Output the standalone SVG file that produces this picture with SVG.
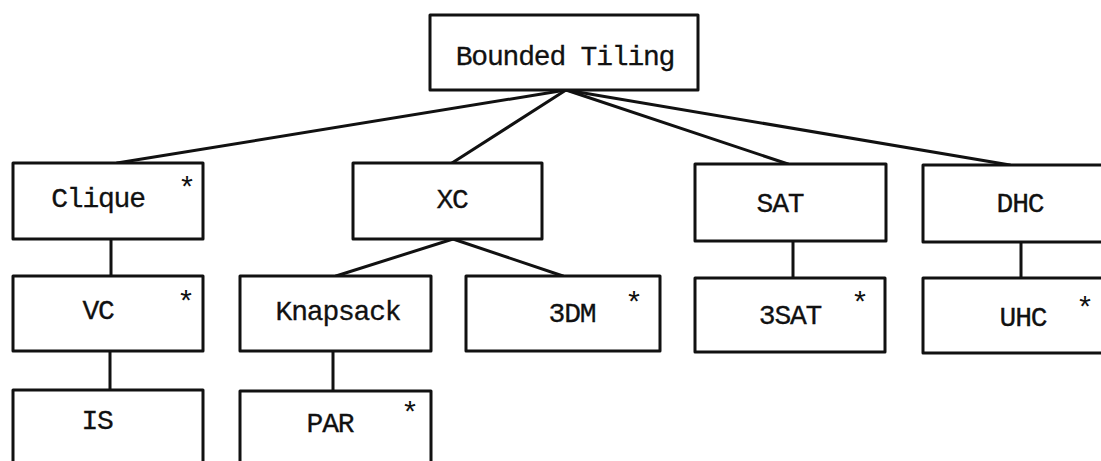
<svg xmlns="http://www.w3.org/2000/svg" width="1101" height="461" viewBox="0 0 1101 461">
<style>
.box{fill:#fff;stroke:#111;stroke-width:3;stroke-linejoin:round}
.lbl{font-family:"Liberation Mono","Courier New",monospace;font-size:28px;letter-spacing:-1.2px;fill:#111;stroke:#111;stroke-width:0.3;text-anchor:middle}
.star{font-family:"Liberation Mono","Courier New",monospace;font-size:30px;fill:#111;text-anchor:middle}
.ln{stroke:#111;stroke-width:3;fill:none;stroke-linecap:round}
</style>
<rect width="1101" height="461" fill="#fff"/>
<g id="connectors">
<line class="ln" x1="566" y1="90" x2="117" y2="163"/>
<line class="ln" x1="566" y1="90" x2="452" y2="163"/>
<line class="ln" x1="566" y1="90" x2="788" y2="164"/>
<line class="ln" x1="566" y1="90" x2="1010" y2="165"/>
<line class="ln" x1="453" y1="239" x2="336" y2="276"/>
<line class="ln" x1="453" y1="239" x2="563" y2="276"/>
<line class="ln" x1="111" y1="239" x2="111" y2="276"/>
<line class="ln" x1="110" y1="351" x2="110" y2="390"/>
<line class="ln" x1="333" y1="351" x2="333" y2="391"/>
<line class="ln" x1="793" y1="241" x2="793" y2="278"/>
<line class="ln" x1="1021" y1="242" x2="1021" y2="278"/>
</g>
<g id="bounded-tiling">
<rect class="box" x="430" y="15" width="268" height="75"/>
<text class="lbl" x="565" y="65">Bounded Tiling</text>
</g>
<g id="clique">
<rect class="box" x="13" y="163" width="190" height="76"/>
<text class="lbl" x="98" y="207">Clique</text>
<text class="star" x="187" y="198">*</text>
</g>
<g id="xc">
<rect class="box" x="353" y="163" width="189" height="76"/>
<text class="lbl" x="452" y="208">XC</text>
</g>
<g id="sat">
<rect class="box" x="695" y="164" width="191" height="77"/>
<text class="lbl" x="780" y="212">SAT</text>
</g>
<g id="dhc">
<rect class="box" x="923" y="165" width="200" height="77"/>
<text class="lbl" x="1020" y="212">DHC</text>
</g>
<g id="vc">
<rect class="box" x="13" y="276" width="190" height="75"/>
<text class="lbl" x="98" y="319">VC</text>
<text class="star" x="186" y="312">*</text>
</g>
<g id="knapsack">
<rect class="box" x="240" y="276" width="191" height="75"/>
<text class="lbl" x="338" y="320">Knapsack</text>
</g>
<g id="three-dm">
<rect class="box" x="466" y="276" width="194" height="75"/>
<text class="lbl" x="572" y="322">3DM</text>
<text class="star" x="634" y="313">*</text>
</g>
<g id="three-sat">
<rect class="box" x="695" y="278" width="190" height="74"/>
<text class="lbl" x="790" y="324">3SAT</text>
<text class="star" x="860" y="313">*</text>
</g>
<g id="uhc">
<rect class="box" x="923" y="278" width="200" height="75"/>
<text class="lbl" x="1023" y="326">UHC</text>
<text class="star" x="1085" y="318">*</text>
</g>
<g id="is">
<rect class="box" x="13" y="390" width="190" height="90"/>
<text class="lbl" x="97" y="429">IS</text>
</g>
<g id="par">
<rect class="box" x="240" y="391" width="191" height="90"/>
<text class="lbl" x="330" y="432">PAR</text>
<text class="star" x="410" y="423">*</text>
</g>
</svg>
